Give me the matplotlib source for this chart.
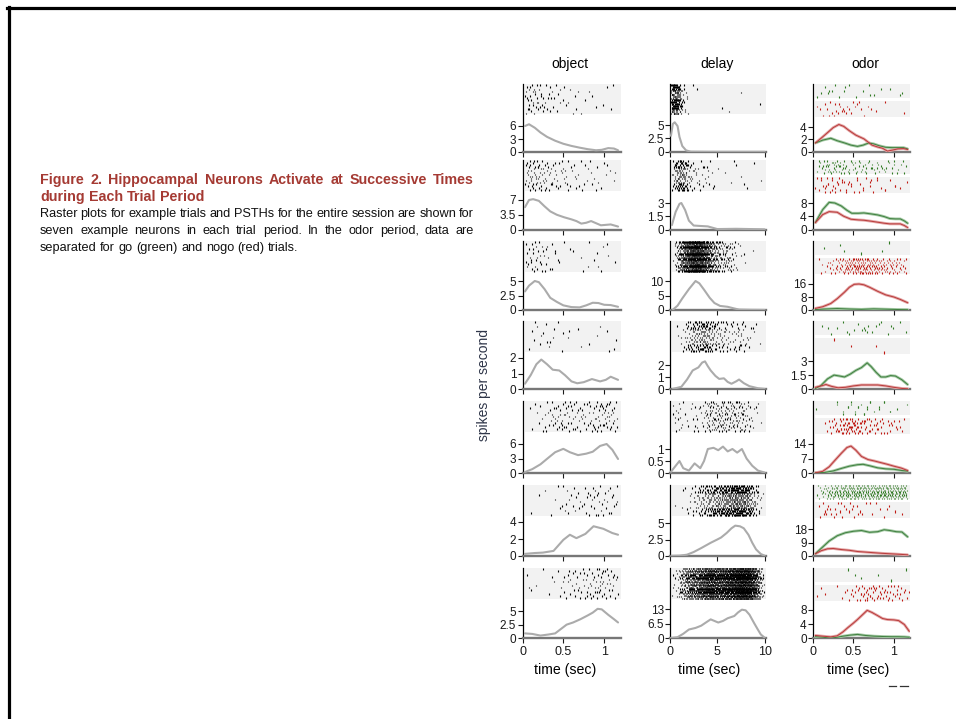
import numpy as np
import matplotlib.pyplot as plt
from matplotlib.patches import Rectangle
from matplotlib.lines import Line2D
from matplotlib.transforms import IdentityTransform

plt.rcParams['font.family'] = ['Liberation Sans', 'DejaVu Sans']

W, H = 956, 719

# ---------------- data ----------------
columns = ['object', 'delay', 'odor']
x_ticks = [[0, 0.5, 1], [0, 5, 10], [0, 0.5, 1]]
x_max = [1.2, 10.15, 1.2]

# object period PSTHs (time in sec, rate in spikes/s)
object_t = [
    [0.03, 0.08, 0.15, 0.22, 0.3, 0.4, 0.5, 0.6, 0.7, 0.8, 0.9, 0.97, 1.05, 1.12, 1.17],
    [0.03, 0.08, 0.13, 0.2, 0.27, 0.34, 0.42, 0.51, 0.6, 0.66, 0.72, 0.78, 0.84, 0.9, 0.96, 1.02, 1.08, 1.17],
    [0.03, 0.08, 0.15, 0.2, 0.27, 0.34, 0.42, 0.5, 0.6, 0.7, 0.78, 0.86, 0.93, 1.0, 1.08, 1.17],
    [0.03, 0.1, 0.17, 0.23, 0.3, 0.37, 0.45, 0.52, 0.6, 0.67, 0.75, 0.85, 0.95, 1.02, 1.08, 1.17],
    [0.03, 0.12, 0.22, 0.32, 0.4, 0.5, 0.58, 0.68, 0.78, 0.86, 0.95, 1.03, 1.1, 1.17],
    [0.03, 0.15, 0.25, 0.38, 0.5, 0.58, 0.66, 0.77, 0.87, 0.99, 1.1, 1.17],
    [0.03, 0.12, 0.22, 0.32, 0.4, 0.47, 0.54, 0.62, 0.71, 0.8, 0.86, 0.92, 0.97, 1.05, 1.12, 1.17],
]
object_rate = [
    [6.0, 6.4, 5.6, 4.5, 3.5, 2.6, 1.9, 1.4, 1.0, 0.65, 0.4, 0.5, 0.9, 0.8, 0.4],
    [5.3, 7.0, 7.2, 6.8, 5.5, 4.3, 3.5, 2.9, 2.4, 2.0, 1.4, 1.6, 2.0, 1.5, 1.0, 1.1, 1.2, 0.7],
    [3.2, 4.2, 5.0, 4.8, 3.6, 2.1, 1.4, 0.8, 0.5, 0.45, 0.8, 1.25, 1.2, 0.9, 0.85, 0.55],
    [0.35, 0.9, 1.6, 1.9, 1.6, 1.25, 1.2, 0.9, 0.5, 0.38, 0.45, 0.65, 0.5, 0.6, 0.8, 0.6],
    [0.2, 0.8, 1.8, 3.2, 4.3, 5.0, 4.3, 3.7, 4.0, 4.4, 5.6, 6.0, 4.8, 2.9],
    [0.25, 0.35, 0.4, 0.6, 1.9, 2.5, 2.1, 2.6, 3.5, 3.2, 2.7, 2.5],
    [0.9, 0.8, 0.5, 0.7, 0.9, 1.7, 2.5, 2.9, 3.5, 4.2, 4.7, 5.4, 5.3, 4.3, 3.5, 2.9],
]

# delay period PSTHs
delay_t = [
    [0.1, 0.3, 0.5, 0.8, 1.0, 1.3, 1.7, 2.2, 4, 6, 8, 10],
    [0.2, 0.6, 1.0, 1.2, 1.6, 2.0, 2.5, 3.2, 4.0, 4.5, 5.0, 7, 8.5, 10],
    [0.3, 0.8, 1.3, 2.0, 2.7, 3.1, 3.6, 4.2, 4.7, 5.3, 6.1, 6.7, 7.3, 8.5, 10],
    [0.3, 1.2, 1.8, 2.4, 3.0, 3.4, 3.7, 4.0, 4.3, 4.8, 5.2, 5.7, 6.1, 6.5, 7.0, 7.3, 7.8, 8.4, 9.3, 10],
    [0.1, 0.6, 1.0, 1.4, 2.0, 2.6, 3.2, 3.6, 4.0, 4.6, 5.1, 5.6, 6.1, 6.6, 7.1, 7.6, 8.1, 8.7, 9.3, 10],
    [0.2, 1.0, 1.8, 2.5, 3.3, 4.3, 5.0, 5.4, 6.0, 6.5, 6.9, 7.4, 7.8, 8.3, 8.7, 9.1, 9.6, 10],
    [0.1, 0.8, 1.4, 2.0, 2.7, 3.3, 3.9, 4.3, 4.7, 5.1, 5.6, 6.1, 6.8, 7.2, 7.6, 8.0, 8.4, 8.9, 9.3, 9.6, 10],
]
delay_rate = [
    [3.0, 5.2, 5.5, 4.8, 2.8, 1.1, 0.3, 0.05, 0.02, 0.02, 0.02, 0.02],
    [0.5, 2.0, 2.9, 3.0, 2.2, 1.0, 0.45, 0.4, 0.35, 0.2, 0.05, 0.08, 0.05, 0.02],
    [0.1, 1.5, 4.0, 7.2, 10.0, 9.2, 7.0, 4.2, 2.4, 1.4, 1.1, 0.6, 0.15, 0.05, 0.0],
    [0.02, 0.2, 0.8, 1.55, 1.8, 2.2, 2.3, 1.9, 1.55, 1.1, 0.85, 0.9, 0.6, 0.45, 0.65, 0.8, 0.5, 0.25, 0.08, 0.02],
    [0.05, 0.3, 0.5, 0.2, 0.1, 0.4, 0.2, 0.5, 1.0, 1.05, 0.95, 1.1, 0.9, 1.0, 0.85, 1.0, 0.6, 0.3, 0.1, 0.02],
    [0.02, 0.05, 0.2, 0.6, 1.2, 2.0, 2.5, 2.8, 3.5, 4.2, 4.6, 4.5, 4.2, 3.2, 2.0, 1.0, 0.3, 0.05],
    [0.1, 0.5, 2.0, 3.9, 4.6, 5.6, 7.3, 8.4, 7.7, 7.0, 7.7, 8.9, 9.9, 11.5, 12.7, 12.4, 10.5, 6.7, 3.8, 1.7, 0.3],
]

# odor period PSTHs, go (green) and nogo (red) trials
odor_go_t = [
    [0.03, 0.12, 0.22, 0.3, 0.39, 0.47, 0.55, 0.62, 0.69, 0.75, 0.82, 0.9, 0.98, 1.05, 1.12, 1.17],
    [0.03, 0.12, 0.2, 0.27, 0.35, 0.42, 0.48, 0.56, 0.63, 0.72, 0.8, 0.88, 0.95, 1.02, 1.08, 1.13, 1.17],
    [0.03, 0.15, 0.3, 0.45, 0.6, 0.75, 0.9, 1.05, 1.17],
    [0.03, 0.1, 0.18, 0.26, 0.33, 0.39, 0.46, 0.53, 0.6, 0.67, 0.72, 0.78, 0.84, 0.9, 0.96, 1.02, 1.1, 1.17],
    [0.03, 0.15, 0.25, 0.35, 0.45, 0.55, 0.62, 0.7, 0.8, 0.9, 1.0, 1.1, 1.17],
    [0.03, 0.1, 0.2, 0.3, 0.4, 0.5, 0.6, 0.7, 0.8, 0.88, 0.95, 1.03, 1.1, 1.17],
    [0.03, 0.12, 0.22, 0.3, 0.37, 0.46, 0.55, 0.65, 0.76, 0.87, 0.97, 1.05, 1.13, 1.19],
]
odor_go = [
    [1.45, 1.9, 2.2, 1.8, 1.45, 1.1, 0.9, 1.1, 1.45, 1.3, 1.0, 0.75, 0.7, 0.7, 0.7, 0.5],
    [2.1, 6.0, 8.2, 8.0, 7.1, 5.8, 4.9, 4.9, 5.0, 4.7, 4.4, 3.9, 3.3, 3.2, 3.2, 2.6, 1.9],
    [0.3, 0.6, 0.9, 0.6, 0.4, 0.7, 0.5, 0.3, 0.2],
    [0.07, 0.4, 1.1, 1.5, 1.4, 1.3, 1.6, 2.0, 2.3, 2.8, 2.4, 1.8, 1.3, 1.3, 1.45, 1.4, 1.0, 0.5],
    [0.1, 0.3, 1.0, 2.2, 3.3, 4.0, 4.2, 3.5, 2.5, 2.0, 1.8, 1.2, 0.9],
    [1.5, 5.0, 10.0, 13.5, 15.5, 16.5, 17.0, 15.8, 16.2, 17.5, 17.0, 16.2, 16.0, 12.8],
    [0.45, 0.3, 0.05, 0.3, 0.6, 0.9, 1.1, 0.8, 0.6, 0.5, 0.45, 0.45, 0.4, 0.3],
]
odor_nogo_t = [
    [0.03, 0.1, 0.18, 0.25, 0.32, 0.38, 0.45, 0.53, 0.63, 0.68, 0.73, 0.8, 0.86, 0.92, 0.98, 1.05, 1.12, 1.17],
    [0.03, 0.12, 0.2, 0.3, 0.38, 0.47, 0.56, 0.63, 0.72, 0.8, 0.88, 0.95, 1.02, 1.08, 1.13, 1.17],
    [0.03, 0.12, 0.22, 0.3, 0.39, 0.45, 0.51, 0.57, 0.63, 0.7, 0.8, 0.9, 1.0, 1.08, 1.17],
    [0.03, 0.1, 0.16, 0.23, 0.31, 0.4, 0.5, 0.6, 0.7, 0.8, 0.9, 1.0, 1.1, 1.17],
    [0.03, 0.12, 0.2, 0.28, 0.35, 0.42, 0.47, 0.53, 0.6, 0.68, 0.76, 0.84, 0.92, 1.0, 1.09, 1.17],
    [0.03, 0.1, 0.18, 0.25, 0.35, 0.45, 0.55, 0.65, 0.75, 0.85, 0.95, 1.05, 1.17],
    [0.03, 0.12, 0.22, 0.3, 0.37, 0.43, 0.5, 0.55, 0.61, 0.67, 0.73, 0.8, 0.86, 0.92, 1.0, 1.06, 1.13, 1.19],
]
odor_nogo = [
    [1.45, 2.2, 3.1, 3.9, 4.4, 4.1, 3.4, 2.7, 2.1, 1.6, 1.1, 0.8, 0.6, 0.15, 0.3, 0.5, 0.55, 0.4],
    [2.1, 4.5, 5.4, 5.2, 4.0, 3.1, 2.9, 2.8, 2.5, 2.2, 1.9, 1.7, 1.7, 1.7, 1.2, 0.6],
    [1.0, 2.0, 4.0, 7.0, 11.0, 14.0, 15.8, 16.0, 15.5, 14.0, 11.5, 9.3, 8.0, 6.5, 4.5],
    [0.2, 0.35, 0.5, 0.3, 0.15, 0.2, 0.35, 0.45, 0.45, 0.45, 0.35, 0.2, 0.08, 0.05],
    [0.1, 0.8, 3.0, 6.5, 9.5, 12.3, 13.0, 11.0, 8.0, 6.5, 5.8, 5.0, 4.2, 3.3, 2.4, 1.2],
    [1.5, 3.5, 4.8, 5.0, 4.3, 3.8, 3.0, 2.6, 2.2, 1.8, 1.5, 1.2, 0.8],
    [0.8, 0.6, 0.4, 0.7, 1.8, 3.0, 4.3, 5.3, 6.6, 7.9, 7.3, 6.4, 5.6, 5.3, 5.2, 5.0, 3.9, 2.0],
]

# top y tick of every PSTH
y_top = {
    'object': [6, 7, 5, 2, 6, 4, 5],
    'delay': [5, 3, 10, 2, 1, 5, 13],
    'odor': [4, 8, 16, 3, 14, 18, 8],
}
# trials shown in each raster
n_trials = {
    'object': [14, 16, 14, 14, 15, 14, 15],
    'delay': [16, 16, 18, 16, 18, 16, 20],
    'go': [7, 8, 5, 7, 6, 9, 5],
    'nogo': [7, 8, 9, 5, 8, 6, 8],
}

# ---------------- layout (pixels of the 956x719 image) ----------------
col_left = [522.5, 670, 813]
col_width = [98, 96, 97]
title_x = [570, 717, 865]
xlabel_x = [565, 709, 858]
raster_top = [84, 160, 241, 321, 401, 485, 568]
raster_bot = [114.5, 191, 272, 352, 432, 516, 599]
zero_px = [152, 229.5, 310, 389.2, 473, 556, 638.3]
tick_px = {
    'object': [126, 200, 281, 358, 444, 522, 611],
    'delay': [125, 203, 281, 365, 449, 523, 609],
    'odor': [127, 203, 284, 361, 444, 529, 610],
}

GRAY = '#ababab'
GREEN_L, GREEN_D = '#a3c8a3', '#3f7f3f'
RED_L, RED_D = '#e4a6a6', '#b83a3a'
SPK_GREEN, SPK_RED = '#2f7a22', '#c01812'
BG = '#f2f2f2'


def halton(n, b):
    n = np.asarray(n, dtype=np.int64).copy()
    out = np.zeros(len(n))
    f = 1.0 / b
    while np.any(n > 0):
        out += f * (n % b)
        n //= b
        f /= b
    return out


def spike_trains(t, r, ntr, gain, seed):
    # example-trial spikes spread along the PSTH's cumulative rate (deterministic, Halton points)
    grid = np.linspace(t[0], t[-1], 800)
    rate = np.interp(grid, t, r) + 1e-3
    cdf = np.concatenate([[0], np.cumsum((rate[1:] + rate[:-1]) / 2 * np.diff(grid))])
    n = int(round(cdf[-1] * gain * ntr))
    idx = np.arange(1, n + 1) + seed * 53
    u = halton(idx, 2)
    v = halton(idx, 3)
    xs = np.interp(u * cdf[-1], cdf, grid)
    ys = np.minimum((v * ntr).astype(int), ntr - 1)
    return xs, ys


def draw_raster(ax, t, r, ntr, y0, y1, xmax, color, seed, gain=2.0):
    tr = ax.get_xaxis_transform()
    x0 = 0.03 if xmax < 2 else 0.25
    ax.add_patch(Rectangle((x0, y0), xmax - x0, y1 - y0, transform=tr, color=BG, lw=0, zorder=0))
    xs, ys = spike_trains(t, r, ntr, gain, seed)
    h = (y1 - y0) / ntr
    lo = y1 - (ys + 1) * h
    ax.vlines(xs, lo + 0.1 * h, lo + 0.9 * h, transform=tr, color=color, lw=0.8, zorder=2)


fig = plt.figure(figsize=(W / 100, H / 100), dpi=100)

for c, name in enumerate(columns):
    for k in range(7):
        top, zero = raster_top[k], zero_px[k]
        ax = fig.add_axes([col_left[c] / W, (H - zero) / H, col_width[c] / W, (zero - top) / H])
        yt = y_top[name][k]
        ymax = yt * (zero - top) / (zero - tick_px[name][k])
        ax.set_ylim(0, ymax)
        ax.set_xlim(0, x_max[c])
        rb = (zero - raster_bot[k]) / (zero - top)
        seed = c * 7 + k + 1

        if name == 'odor':
            span = 1 - rb
            g0 = 1 - 0.45 * span
            r1 = g0 - 0.1 * span
            draw_raster(ax, odor_go_t[k], odor_go[k], n_trials['go'][k], g0, 1,
                        x_max[c], SPK_GREEN, seed)
            draw_raster(ax, odor_nogo_t[k], odor_nogo[k], n_trials['nogo'][k], rb - 0.03, r1,
                        x_max[c], SPK_RED, seed + 3)
            ax.plot(odor_go_t[k], odor_go[k], color=GREEN_L, lw=2.0, solid_capstyle='round', zorder=3)
            ax.plot(odor_go_t[k], odor_go[k], color=GREEN_D, lw=0.7, zorder=4)
            ax.plot(odor_nogo_t[k], odor_nogo[k], color=RED_L, lw=2.0, solid_capstyle='round', zorder=3)
            ax.plot(odor_nogo_t[k], odor_nogo[k], color=RED_D, lw=0.7, zorder=4)
        else:
            tt = object_t[k] if name == 'object' else delay_t[k]
            rr = object_rate[k] if name == 'object' else delay_rate[k]
            draw_raster(ax, tt, rr, n_trials[name][k], rb, 1, x_max[c], 'black', seed)
            ax.plot(tt, rr, color=GRAY, lw=1.5, solid_capstyle='round', zorder=3)

        for s in ['top', 'right']:
            ax.spines[s].set_visible(False)
        ax.spines['left'].set_linewidth(0.9)
        ax.spines['bottom'].set_color('#777777')
        ax.spines['bottom'].set_linewidth(1.7)
        ax.set_yticks([0, yt / 2, yt])
        ax.set_yticklabels(['%g' % v for v in [0, yt / 2, yt]])
        ax.set_xticks(x_ticks[c])
        ax.tick_params(axis='y', length=3.5, width=0.8, pad=1, labelsize=8.5, colors='#1a1a1a')
        ax.tick_params(axis='x', length=3.5, width=0.8, pad=2, labelsize=9, colors='#1a1a1a')
        if k < 6:
            ax.set_xticklabels([])
        else:
            ax.set_xticklabels(['%g' % v for v in x_ticks[c]])
        ax.patch.set_visible(False)

# column titles and axis labels
for c, name in enumerate(columns):
    fig.text(title_x[c] / W, 1 - 64 / H, name, ha='center', va='center', fontsize=10)
    fig.text(xlabel_x[c] / W, 1 - 670 / H, 'time (sec)', ha='center', va='center', fontsize=10.2)
fig.text(484 / W, 1 - 385 / H, 'spikes per second', rotation=90, ha='center', va='center',
         fontsize=10, color='#2e3548')

# caption with justified lines
renderer = fig.canvas.get_renderer()
ID = IdentityTransform()


def text_line(s, y, x0, x1, justify, **kw):
    words = s.split()
    ts = [fig.text(0, H - y, w, transform=ID, va='center', ha='left', **kw) for w in words]
    widths = [t.get_window_extent(renderer).width for t in ts]
    if justify and len(words) > 1:
        gap = (x1 - x0 - sum(widths)) / (len(words) - 1)
    else:
        sp = fig.text(0, 0, 'a a', transform=ID, **kw)
        aa = fig.text(0, 0, 'aa', transform=ID, **kw)
        gap = sp.get_window_extent(renderer).width - aa.get_window_extent(renderer).width
        sp.remove()
        aa.remove()
    x = x0
    for t, w in zip(ts, widths):
        t.set_x(x)
        x += w + gap


title_kw = dict(fontsize=10.3, fontweight='bold', color='#a53a33')
body_kw = dict(fontsize=9.2, color='#111111')
text_line('Figure 2. Hippocampal Neurons Activate at Successive Times', 180, 40, 474, True, **title_kw)
text_line('during Each Trial Period', 197, 40, 474, False, **title_kw)
text_line('Raster plots for example trials and PSTHs for the entire session are shown for',
          214, 40, 474, True, **body_kw)
text_line('seven example neurons in each trial period. In the odor period, data are',
          231, 40, 474, True, **body_kw)
text_line('separated for go (green) and nogo (red) trials.', 248, 40, 474, False, **body_kw)

# slide frame
fig.add_artist(Line2D([7, W], [H - 8, H - 8], transform=ID, color='black', lw=2.3))
fig.add_artist(Line2D([8.5, 8.5], [0, H - 7], transform=ID, color='black', lw=2.3))
fig.add_artist(Line2D([889, 896], [H - 686, H - 686], transform=ID, color='#333333', lw=0.9))
fig.add_artist(Line2D([900, 908], [H - 686, H - 686], transform=ID, color='#333333', lw=0.9))

fig.savefig('out.png', dpi=100)
